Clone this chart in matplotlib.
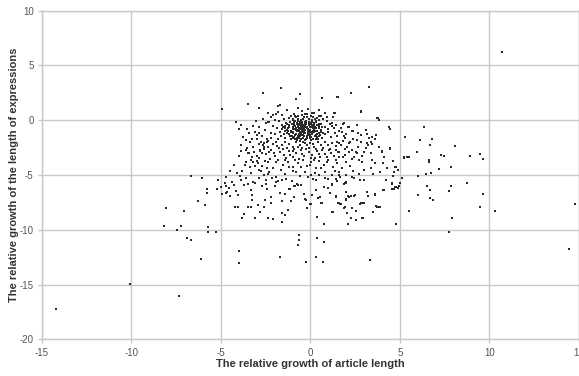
import matplotlib
matplotlib.use("Agg")
import matplotlib.pyplot as plt

# Outlying / sparse points
sparse_pts = [
    (-14.21, -17.22), (-10.1, -14.97), (-7.32, -16.03), (-6.12, -12.63), (-3.97, -11.9),
    (-3.99, -13.08), (-1.72, -12.5), (-8.21, -9.64), (-7.43, -10.04), (-7.24, -9.64),
    (-6.9, -10.74), (-6.7, -10.92), (-5.73, -9.76), (-5.73, -10.22), (-5.29, -10.16),
    (-8.08, -7.97), (-7.06, -8.3), (-6.31, -7.33), (-5.88, -7.76), (-5.76, -6.3),
    (-5.76, -6.66), (-5.2, -6.24), (-4.99, -6.06), (-4.94, -6.75), (-4.73, -6.66),
    (-4.66, -6.57), (-4.5, -6.88), (-4.71, -5.97), (-4.17, -6.45), (-4.03, -6.82),
    (-4.21, -7.94), (-4.03, -7.88), (-3.84, -8.89), (-3.71, -8.55), (-3.71, -5.93),
    (-3.5, -5.81), (-3.49, -7.88), (-3.3, -7.88), (-3.25, -6.82), (-3.25, -7.27),
    (-3.32, -6.33), (-3.08, -5.75), (-3.08, -8.89), (-2.94, -7.73), (-2.83, -8.34),
    (-2.58, -7.94), (-2.72, -5.97), (-2.5, -5.81), (-2.44, -6.3), (-2.56, -7.27),
    (-2.35, -8.94), (-2.09, -9.0), (-2.19, -7.57), (-1.94, -5.6), (-1.8, -5.54),
    (-1.61, -5.45), (-1.44, -6.72), (-1.57, -7.39), (-1.59, -8.43), (-1.44, -8.67),
    (-1.27, -8.18), (-1.59, -9.31), (-1.09, -7.36), (-1.22, -6.3), (-0.94, -6.0),
    (-0.77, -5.81), (-0.66, -10.5), (-0.66, -10.92), (-0.68, -11.38), (-0.23, -12.96),
    (-0.29, -7.21), (-0.38, -6.72), (-0.55, -5.93), (-0.7, -5.87), (-0.88, -5.97),
    (-1.01, -5.57), (-1.1, -7.39), (-1.16, -6.3), (-1.7, -12.5),
    (-6.66, -5.05), (-6.07, -5.3), (-5.18, -5.45), (-4.12, -4.8),
    (-4.95, 1.0), (-2.65, 2.5), (-1.66, 2.97), (-3.5, 1.49), (-2.89, 1.15),
    (-0.83, 1.9), (-1.8, 1.3), (-0.6, 2.4), (0.64, 2.03), (1.52, 2.15), (2.28, 2.49),
    (3.28, 3.0), (2.8, 0.85), (3.75, 0.2), (3.82, 0.0), (1.33, 0.67),
    (-4.14, -0.2), (-3.9, -0.4), (-3.99, -0.82), (-3.6, -1.8), (-3.58, -2.68), (-4.0, -3.3),
    (-3.52, -0.82), (-3.1, -1.1), (-2.87, -1.19), (-2.97, -1.34), (-3.88, -2.25),
    (-3.89, -2.77), (-3.52, -2.56), (-3.43, -2.96), (-3.24, -3.32), (-3.21, -3.78),
    (-3.58, -3.83), (-2.82, -2.68), (-2.72, -3.01), (-2.59, -2.1), (-2.41, -1.95),
    (-2.22, 0.33), (-2.09, 0.48), (-1.8, 0.78), (-1.7, 1.4), (-2.35, -0.13), (-2.5, -0.22),
    (10.72, 6.23), (4.36, -0.58), (4.42, -0.82), (6.33, -0.58), (5.27, -1.5),
    (6.09, -1.77), (6.8, -1.74), (6.66, -2.28), (8.1, -2.31), (8.93, -3.23),
    (9.45, -3.05), (9.62, -3.56), (7.3, -3.2), (7.45, -3.3), (6.6, -3.6), (6.6, -3.8),
    (5.94, -2.9), (5.23, -3.4), (5.51, -3.35), (7.87, -4.26), (7.18, -4.44),
    (6.48, -4.9), (6.72, -4.78), (5.98, -5.08), (5.14, -5.23), (8.75, -5.7),
    (7.84, -6.05), (4.71, -4.29), (4.68, -4.69), (4.45, -2.62), (4.04, -3.9),
    (3.97, -2.86), (3.67, -1.31), (3.6, -1.68), (3.45, -2.16),
    (14.75, -7.64), (14.42, -11.72), (10.29, -8.3), (9.62, -6.72), (9.45, -7.91),
    (7.91, -8.91), (7.72, -10.16), (7.72, -6.42), (6.83, -7.3), (6.68, -7.06),
    (6.7, -6.33), (6.51, -5.97), (6.01, -6.79), (5.48, -8.25), (4.79, -9.49),
    (4.92, -6.0), (4.71, -6.06), (4.56, -5.81), (4.56, -6.3), (4.06, -6.36),
    (3.9, -7.88), (3.73, -7.88), (3.5, -8.37), (3.58, -6.79), (3.22, -6.88),
    (3.17, -6.51), (3.32, -12.72), (2.93, -8.91), (2.98, -7.57), (2.76, -7.64),
    (2.5, -6.85), (2.55, -8.25), (2.52, -9.1), (2.28, -8.91), (2.11, -9.49),
    (2.05, -8.43), (2.26, -6.88), (2.07, -6.93), (1.99, -7.15), (1.96, -6.54),
    (1.9, -7.88), (1.89, -5.81), (1.99, -5.69), (1.63, -7.64), (1.55, -7.52),
    (1.44, -6.88), (1.25, -8.37), (1.18, -5.84), (0.96, -6.2), (0.77, -6.11),
    (0.74, -9.43), (0.74, -11.1), (0.35, -10.77), (0.7, -12.96), (0.33, -12.5),
    (0.36, -8.85), (0.6, -7.57), (0.44, -7.09), (0.55, -7.03), (0.1, -6.82),
    (-0.03, -7.64), (1.22, -8.34), (2.89, -8.89), (3.49, -8.34), (0.01, -7.67),
    (-0.27, -7.24), (0.62, -7.57), (0.99, -6.2), (1.22, -5.9), (0.81, -5.3),
    (1.4, -5.36), (1.5, -5.54), (1.59, -4.99), (1.63, -5.14), (1.92, -5.75),
    (1.96, -5.6), (2.3, -5.17), (2.43, -5.23), (2.74, -5.42), (2.98, -5.45),
    (2.15, -6.97), (2.43, -6.88), (1.96, -7.27), (1.44, -6.97), (1.59, -7.57),
    (1.68, -7.67), (1.87, -7.97), (2.33, -8.03), (2.8, -7.57), (2.95, -7.57),
    (3.17, -6.51), (3.6, -6.75), (3.67, -7.79), (3.82, -7.94), (4.1, -6.36),
    (4.23, -5.45), (4.56, -5.75), (4.75, -6.06), (4.9, -6.15), (4.66, -6.27),
    (0.01, -4.99), (0.14, -5.36), (0.29, -5.45),
]

# Moderately dense area around the core (estimated)
mid_pts = [
    (0.64, 2.0), (1.5, 2.15), (2.8, 0.79), (3.73, 0.21), (1.87, -0.22), (1.37, 0.64),
    (1.25, 0.27), (0.81, 0.64), (0.47, 0.39), (0.1, 0.64), (1.22, -0.22), (1.4, -0.43),
    (2.15, -0.58), (2.33, -0.95), (2.67, -1.13), (2.8, -1.34), (1.77, -1.04), (1.87, -1.43),
    (3.08, -0.89), (3.17, -1.25), (3.26, -1.64), (3.45, -1.55), (3.36, -1.95), (3.17, -2.1),
    (3.08, -2.56), (2.98, -2.86), (3.99, -2.8), (4.42, -2.56), (2.67, -2.41), (2.52, -2.86),
    (2.43, -3.32), (2.15, -2.1), (2.05, -2.41), (2.15, -2.86), (1.92, -3.17), (1.55, -2.86),
    (1.59, -3.32), (1.68, -2.25), (1.5, -1.95), (2.7, -3.62), (2.89, -3.78), (3.45, -3.62),
    (3.6, -3.92), (3.36, -4.38), (4.06, -3.92), (4.77, -4.23), (5.21, -3.47), (5.4, -3.32),
    (-3.75, -1.5), (-3.4, -2.0), (-3.2, -2.4), (-3.0, -1.7), (-2.9, -2.2), (-2.7, -1.4),
    (-2.6, -2.6), (-2.45, -1.7), (-2.3, -2.9), (-3.5, -3.0), (-3.3, -3.6), (-2.85, -3.45),
    (-2.55, -3.7), (-3.65, -4.1), (-3.85, -4.6), (-3.1, -4.2), (-2.75, -4.6), (-2.4, -4.9),
    (-4.3, -4.1), (-4.5, -4.6), (-3.95, -5.1), (-3.6, -5.3), (-3.2, -5.6), (-2.85, -5.3),
    (-2.5, -5.5), (-2.15, -5.25), (-4.7, -5.2), (-4.4, -5.6), (-4.8, -5.7), (-4.55, -6.2),
    (-4.25, -5.9), (-3.9, -5.5),
    (1.7, -0.7), (2.0, -1.3), (2.4, -1.7), (2.6, -0.4), (1.8, -1.9), (2.3, -3.5),
    (2.6, -3.0), (2.9, -3.3), (3.2, -2.3), (3.4, -3.0), (3.8, -2.4), (4.1, -3.4),
    (4.3, -4.4), (3.9, -4.7), (3.5, -4.9), (3.0, -4.5), (2.7, -4.9), (2.4, -4.6),
    (2.0, -5.0), (1.6, -4.7), (1.2, -5.0), (0.8, -4.7), (0.45, -5.0), (4.6, -3.7),
    (4.9, -4.5), (4.6, -5.1), (5.0, -5.7),
    (-2.8, -2.8), (-2.5, -3.1), (-2.2, -2.7), (-2.0, -3.3), (-1.7, -2.9), (-1.5, -3.2),
    (-1.2, -2.8), (-1.0, -3.4), (-0.8, -3.0), (-0.55, -2.75), (-0.35, -3.3), (-0.1, -2.9),
    (0.1, -3.2), (0.35, -2.8), (0.55, -3.4), (0.8, -3.05), (1.05, -2.75), (1.3, -3.3),
    (1.6, -2.9), (1.8, -3.4), (-1.35, -3.45), (-0.65, -3.5), (0.25, -3.45), (-3.0, -3.3),
    (-3.0, -3.7), (-2.7, -4.2), (-2.4, -3.8), (-2.1, -4.4), (-1.8, -3.6), (-1.55, -4.1),
    (-1.25, -3.8), (-0.95, -4.3), (-0.7, -3.9), (-0.4, -3.6), (-0.2, -4.2), (0.05, -3.8),
    (0.3, -4.4), (0.5, -3.7), (0.75, -4.1), (1.0, -3.6), (1.25, -4.3), (1.5, -3.9),
    (1.75, -4.4), (2.0, -3.8), (2.2, -4.2), (-3.4, -4.3), (-2.9, -4.5),
    (-3.3, -4.8), (-2.6, -5.0), (-2.3, -4.7), (-1.9, -5.2), (-1.4, -4.9), (-1.0, -4.6),
    (-0.6, -5.1), (-0.3, -4.7), (-2.0, -6.0), (-1.7, -6.6), (-0.9, -7.0), (-0.2, -8.0),
    (0.3, -6.4), (1.1, -6.6), (-2.2, -7.0),
    (-2.65, -2.25), (-2.35, -2.45), (-2.05, -2.95), (-1.85, -2.35), (-1.55, -2.65),
    (-1.15, -3.15), (-0.95, -2.85), (-0.45, -3.05), (-0.25, -2.65), (0.05, -3.45),
    (0.45, -3.05), (0.65, -2.75), (0.95, -3.35), (1.15, -2.95), (1.4, -3.6),
    (-2.25, -3.55), (-1.95, -3.85), (-1.45, -3.65), (-0.85, -3.65), (-0.55, -4.25),
    (-0.05, -4.05), (0.2, -3.65), (0.6, -4.35), (0.9, -3.85), (1.35, -4.6),
    (-3.15, -2.9), (-2.95, -3.95), (-2.45, -4.35), (-1.65, -4.55), (-1.2, -4.3),
    (-0.8, -4.75), (-0.15, -5.2), (0.25, -4.85), (1.0, -5.4), (-1.35, -5.35),
    (-3.45, -1.2), (-3.25, -1.75), (-2.75, -1.95), (-2.55, -0.85), (-2.2, -1.15),
    (-2.85, -0.6), (-3.2, -0.5), (-2.65, 0.1), (-3.05, -0.1), (-2.4, 0.7),
]

# Dense core (estimated)
core_pts = [
    (-1.3, 0.9), (-0.9, 0.6), (-0.5, 0.8), (-0.2, 0.55), (0.2, 0.7), (-1.6, 0.5),
    (-0.7, 1.1), (0.5, 0.9), (-1.1, 0.35), (-0.35, 0.3), (0.05, 0.4), (-0.8, 0.25),
    (0.35, 0.2), (-1.9, 0.6), (-0.15, 1.0),
    (-1.5, 0.1), (-1.2, 0.2), (-0.95, 0.05), (-0.7, 0.15), (-0.55, 0.0), (-0.4, 0.12),
    (-0.25, -0.05), (-0.1, 0.1), (0.1, -0.02), (0.25, 0.15), (0.45, 0.0), (0.7, 0.1),
    (-1.75, -0.1), (-2.0, 0.05), (-0.85, -0.1), (-0.6, -0.2), (-0.3, -0.15), (0.0, -0.25),
    (0.3, -0.2), (0.6, -0.3), (0.9, -0.1), (-1.35, -0.25), (-1.05, -0.3), (-2.3, -0.2),
    (-1.6, -0.4), (-1.4, -0.55), (-1.2, -0.45), (-1.0, -0.6), (-0.9, -0.4), (-0.8, -0.7),
    (-0.7, -0.5), (-0.6, -0.8), (-0.5, -0.45), (-0.45, -0.65), (-0.4, -0.9), (-0.3, -0.55),
    (-0.2, -0.75), (-0.1, -0.45), (0.0, -0.85), (0.1, -0.6), (0.2, -0.4), (0.3, -0.75),
    (0.45, -0.55), (0.6, -0.9), (0.8, -0.6), (1.0, -0.8), (1.2, -0.5), (-1.85, -0.7),
    (-2.1, -0.55), (-1.3, -0.85), (-1.1, -0.95), (-0.95, -0.8), (-0.75, -1.0), (-0.55, -0.6),
    (-0.35, -1.0), (-0.25, -0.35), (-0.15, -0.95), (0.05, -0.35), (0.15, -0.95), (0.35, -0.45),
    (-0.65, -0.3), (-0.85, -0.55), (-1.45, -0.75), (-0.5, -0.95), (0.5, -0.75), (-0.05, -0.65),
    (-0.38, -0.4), (-0.62, -0.95), (-1.0, -0.35), (0.25, -0.62),
    (-1.7, -1.1), (-1.5, -1.3), (-1.3, -1.15), (-1.15, -1.4), (-1.0, -1.2), (-0.9, -1.55),
    (-0.8, -1.25), (-0.7, -1.45), (-0.6, -1.1), (-0.5, -1.35), (-0.4, -1.6), (-0.3, -1.2),
    (-0.2, -1.45), (-0.1, -1.15), (0.0, -1.6), (0.1, -1.3), (0.2, -1.1), (0.35, -1.5),
    (0.5, -1.2), (0.65, -1.6), (0.8, -1.3), (1.0, -1.1), (1.15, -1.55), (-2.0, -1.3),
    (-2.2, -1.6), (-1.8, -1.7), (-1.4, -1.65), (-1.1, -1.75), (-0.85, -1.7), (-0.55, -1.75),
    (-0.25, -1.7), (0.05, -1.8), (0.3, -1.75), (0.6, -1.05), (-0.65, -1.3), (-0.35, -1.4),
    (-0.05, -1.35), (0.45, -1.4), (-1.25, -1.0), (-0.95, -1.05), (-0.45, -1.05), (-0.15, -1.05),
    (0.25, -1.45), (-0.75, -1.65), (1.35, -1.2), (1.5, -1.45),
    (-2.4, -1.9), (-2.1, -2.2), (-1.9, -2.0), (-1.6, -2.3), (-1.4, -1.95), (-1.2, -2.15),
    (-1.0, -2.4), (-0.8, -2.0), (-0.6, -2.25), (-0.4, -1.95), (-0.2, -2.3), (0.0, -2.05),
    (0.2, -2.4), (0.4, -2.0), (0.6, -2.25), (0.8, -1.95), (1.0, -2.3), (1.2, -2.05),
    (1.4, -2.35), (-1.75, -2.5), (-1.3, -2.55), (-0.9, -2.6), (-0.5, -2.5), (-0.1, -2.55),
    (0.3, -2.6), (0.7, -2.5), (1.1, -2.6), (-2.6, -2.4), (-0.7, -2.45), (-0.3, -2.1),
    (0.15, -2.2),
    (-1.12, -0.18), (-0.98, -0.72), (-0.88, -1.38), (-0.78, -0.22), (-0.72, -0.88),
    (-0.66, -1.58), (-0.58, -0.42), (-0.52, -1.22), (-0.48, -0.12), (-0.42, -0.78),
    (-0.36, -1.48), (-0.32, -0.28), (-0.28, -0.92), (-0.22, -1.62), (-0.18, -0.58),
    (-0.12, -1.28), (-0.08, -0.18), (-0.02, -0.98), (0.04, -1.52), (0.08, -0.48),
    (0.12, -1.12), (0.18, -0.22), (0.22, -0.82), (0.28, -1.32), (0.32, -0.08),
    (0.38, -0.98), (0.42, -1.68), (-1.18, -0.62), (-1.08, -1.08), (-1.02, -1.48),
    (-0.92, -0.28), (-0.82, -0.92), (-0.76, -1.78), (-0.68, -0.08), (-0.62, -0.68),
    (-0.56, -1.48), (-0.46, -0.32), (-0.38, -1.18), (-0.26, -0.62), (-0.16, -1.38),
    (-0.06, -0.32), (0.02, -1.12), (0.14, -0.72), (0.26, -1.02), (0.48, -0.38),
    (0.55, -1.38), (-1.32, -0.35), (-1.42, -1.02), (-1.58, -0.82), (-1.65, -1.45),
    (-0.72, 0.35), (-0.45, 0.45), (-0.18, 0.25), (-1.0, 0.12), (0.12, 0.3), (-0.52, -0.02),
    (-0.88, 0.42), (-0.3, 0.6), (0.6, 0.4), (0.9, 0.3), (1.1, -0.3), (1.3, -0.7),
    (1.6, -1.0), (1.8, -0.3), (2.1, -0.6), (2.4, -1.0), (1.9, -1.6), (2.2, -2.0),
    (2.6, -1.8), (2.8, -2.0), (1.6, -2.1), (1.45, -2.7), (1.9, -2.6), (2.3, -2.7),
    (-0.94, -0.15), (-0.84, -0.82), (-0.74, -0.35), (-0.64, -1.02), (-0.54, -0.25),
    (-0.44, -1.32), (-0.34, -0.72), (-0.24, -0.18), (-0.14, -0.82), (-0.04, -1.48),
    (0.06, -0.12), (0.16, -0.52), (-1.22, -1.28), (-0.98, -1.62), (-0.58, -1.92),
    (-0.28, -1.85), (0.12, -1.72), (0.38, -1.22), (0.62, -0.62), (0.72, -1.18),
    (-1.52, -0.58), (-1.26, -0.72), (-0.7, -0.62), (-0.5, -0.78), (-0.42, -0.52),
]

x_ticks = [-15, -10, -5, 0, 5, 10, 15]
y_ticks = [-20, -15, -10, -5, 0, 5, 10]
x_label = "The relative growth of article length"
y_label = "The relative growth of the length of expressions"

all_pts = sparse_pts + mid_pts + core_pts
xs = [p[0] for p in all_pts]
ys = [p[1] for p in all_pts]

plt.rcParams['font.family'] = ['Liberation Sans', 'DejaVu Sans']
plt.rcParams['axes.unicode_minus'] = False
fig = plt.figure(figsize=(5.79, 3.76), dpi=100)
ax = fig.add_axes([0.0725, 0.0976, 0.9275, 0.874])
ax.scatter(xs, ys, s=3.2, c='#2a2a2a', marker='s', linewidths=0, zorder=3)

ax.set_xlim(-15, 15)
ax.set_ylim(-20, 10)
ax.set_xticks(x_ticks)
ax.set_yticks(y_ticks)
ax.grid(True, color='#c8c8c8', linewidth=1.0, zorder=0)
for s in ax.spines.values():
    s.set_color('#c8c8c8')
    s.set_linewidth(1.0)
ax.tick_params(axis='both', colors='#c8c8c8', labelcolor='#555555', labelsize=7,
               length=3, width=1.0, pad=3)
ax.set_xlabel(x_label, fontsize=8, fontweight='bold', color='#333333', labelpad=1)
ax.set_ylabel(y_label, fontsize=8, fontweight='bold', color='#333333', labelpad=0.5)

fig.savefig("out.png", dpi=100)
